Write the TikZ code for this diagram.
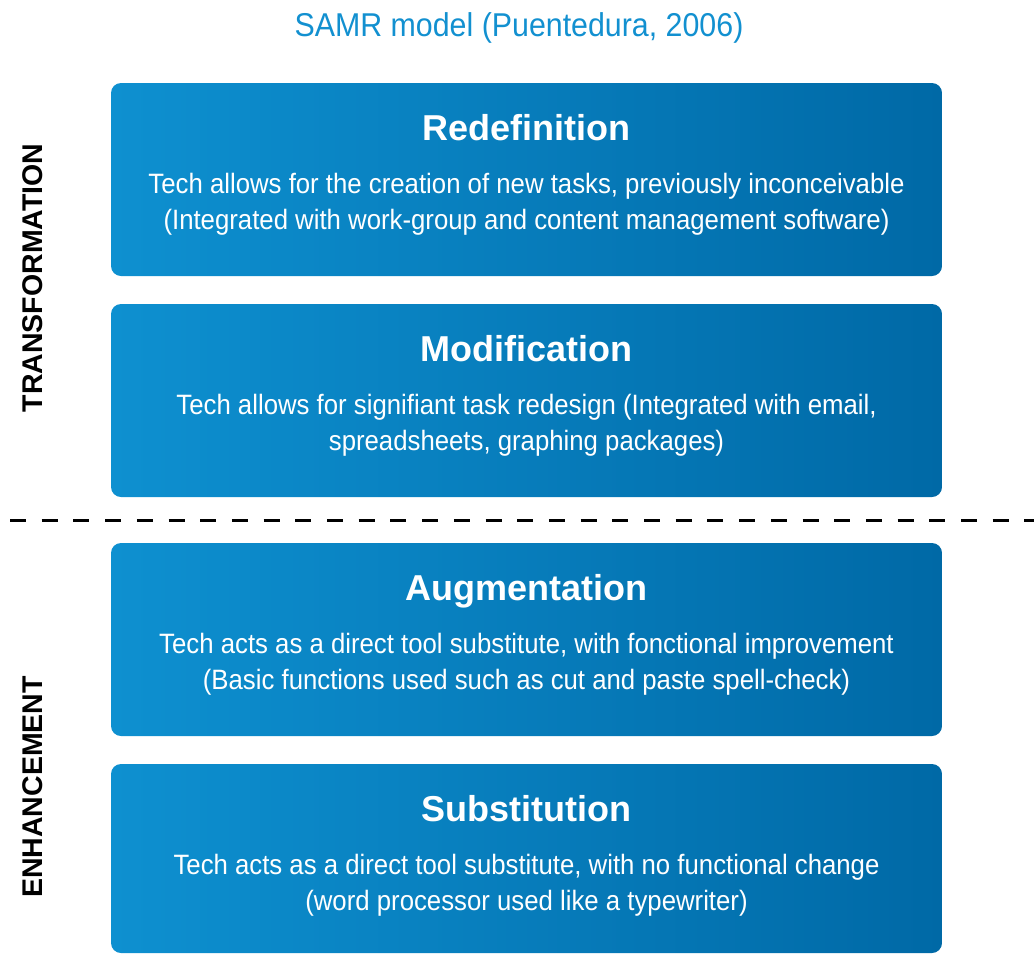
\documentclass[tikz,border=0pt]{standalone}
\usepackage{fontspec}
\setmainfont{Liberation Sans}
\newfontfamily\condfont[FakeStretch=0.92]{Liberation Sans}
\definecolor{lblue}{RGB}{14,144,208}
\definecolor{dblue}{RGB}{0,105,166}
\definecolor{ttlblue}{RGB}{18,144,208}
\tikzset{
  samrbox/.style={rectangle, rounded corners=10pt, minimum width=831pt, minimum height=193pt,
    inner sep=0pt, left color=lblue, right color=dblue, draw=none},
  boxtitle/.style={anchor=base, inner sep=0pt, text=white, font=\fontsize{36}{40}\selectfont\bfseries},
  boxbody/.style={anchor=base, inner sep=0pt, text=white, font=\condfont\fontsize{28}{32}\selectfont},
  sidelabel/.style={rotate=90, inner sep=0pt, text=black, font=\fontsize{28.5}{30}\selectfont\bfseries},
  divider/.style={black, line width=3pt, dash pattern=on 16pt off 15.7pt}
}
\begin{document}
\begin{tikzpicture}[x=1pt,y=-1pt]
\useasboundingbox (0,0) rectangle (1034,954);
\node[anchor=base, inner sep=0pt, text=ttlblue, font=\condfont\fontsize{33}{36}\selectfont] (title) at (519,36) {SAMR model (Puentedura, 2006)};

\node[samrbox] (red) at (526.5,179.5) {};
\node[boxtitle] (redT) at (526.5,140) {Redefinition};
\node[boxbody] (redA) at (526.5,193) {Tech allows for the creation of new tasks, previously inconceivable};
\node[boxbody] (redB) at (526.5,229) {(Integrated with work-group and content management software)};

\node[samrbox] (mod) at (526.5,400.5) {};
\node[boxtitle] (modT) at (526.5,361) {Modification};
\node[boxbody] (modA) at (526.5,414) {Tech allows for signifiant task redesign (Integrated with email,};
\node[boxbody] (modB) at (526.5,450) {spreadsheets, graphing packages)};

\node[samrbox] (aug) at (526.5,639.5) {};
\node[boxtitle] (augT) at (526.5,600) {Augmentation};
\node[boxbody] (augA) at (526.5,653) {Tech acts as a direct tool substitute, with fonctional improvement};
\node[boxbody] (augB) at (526.5,689) {(Basic functions used such as cut and paste spell-check)};

\node[samrbox, minimum height=189pt] (sub) at (526.5,858.5) {};
\node[boxtitle] (subT) at (526.5,821) {Substitution};
\node[boxbody] (subA) at (526.5,874) {Tech acts as a direct tool substitute, with no functional change};
\node[boxbody] (subB) at (526.5,910) {(word processor used like a typewriter)};

\coordinate (dl) at (10,520);
\coordinate (dr) at (1034,520);
\draw[divider] (dl) -- (dr);

\node[sidelabel] (transf) at (32.5,278) {TRANSFORMATION};
\node[sidelabel] (enh) at (32.5,787) {ENHANCEMENT};
\end{tikzpicture}
\end{document}
